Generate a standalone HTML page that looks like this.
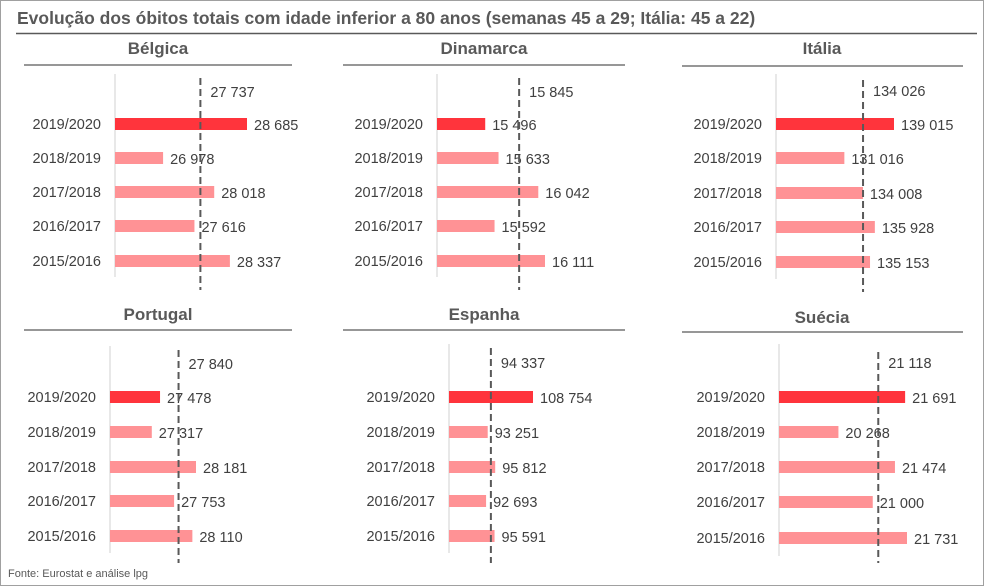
<!DOCTYPE html>
<html><head><meta charset="utf-8">
<style>
body{margin:0;background:#fff;}
svg{display:block;font-family:"Liberation Sans",Arial,sans-serif;}
</style></head>
<body>
<svg id="c" width="985" height="587" viewBox="0 0 985 587">
<rect x="0.5" y="0.5" width="983" height="585" fill="#fff" stroke="#a0a0a0"/>
<text x="17" y="24" font-size="17.5" font-weight="bold" fill="#595959">Evolução dos óbitos totais com idade inferior a 80 anos (semanas 45 a 29; Itália: 45 a 22)</text>
<line x1="16" y1="33.5" x2="977" y2="33.5" stroke="#595959" stroke-width="1.5"/>
<text x="8" y="577" font-size="11" fill="#595959">Fonte: Eurostat e análise lpg</text>
</svg>
<script>
const categories = ["2019/2020","2018/2019","2017/2018","2016/2017","2015/2016"];
const countries = ["Bélgica","Dinamarca","Itália","Portugal","Espanha","Suécia"];
const belgica = [28685,26978,28018,27616,28337];
const dinamarca = [15496,15633,16042,15592,16111];
const italia = [139015,131016,134008,135928,135153];
const portugal = [27478,27317,28181,27753,28110];
const espanha = [108754,93251,95812,92693,95591];
const suecia = [21691,20268,21474,21000,21731];
const means = [27737,15845,134026,27840,94337,21118];
const axisMin = [26000,15000,120000,26500,80000,19000];
const axisMax = [28685,16111,139015,28181,108754,21731];

const series=[belgica,dinamarca,italia,portugal,espanha,suecia];
// layout (pixels)
const layout=[
 {ax:115,pxEnd:247,ty:54,uy:65,ux1:24,ux2:292,rows:[124,158,192,226,261],my:91,a1:74,a2:277,d1:78,d2:290,tc:158},
 {ax:437,pxEnd:545,ty:54,uy:65,ux1:343,ux2:625,rows:[124,158,192,226,261],my:91,a1:74,a2:277,d1:78,d2:290,tc:484},
 {ax:776,pxEnd:894,ty:54,uy:66,ux1:682,ux2:963,rows:[124,158,193,227,262],my:90,a1:74,a2:279,d1:80,d2:292,tc:822},
 {ax:110,pxEnd:196,ty:320,uy:330,ux1:24,ux2:292,rows:[397,432,467,501,536],my:363,a1:346,a2:553,d1:350,d2:563,tc:158},
 {ax:449,pxEnd:533,ty:320,uy:330,ux1:343,ux2:625,rows:[397,432,467,501,536],my:362,a1:344,a2:553,d1:348,d2:563,tc:484},
 {ax:779,pxEnd:907,ty:323,uy:332,ux1:682,ux2:963,rows:[397,432,467,502,538],my:362,a1:344,a2:556,d1:352,d2:563,tc:822}
];
const NS="http://www.w3.org/2000/svg";
const svg=document.getElementById('c');
function mk(tag,attrs,parent){const e=document.createElementNS(NS,tag);for(const k in attrs)e.setAttribute(k,attrs[k]);(parent||svg).appendChild(e);return e;}
function fmt(v){return String(v).replace(/\B(?=(\d{3})+(?!\d))/g,' ');}

countries.forEach((name,i)=>{
  const L=layout[i];
  const vals=series[i];
  const x=v=>L.ax+(v-axisMin[i])/(axisMax[i]-axisMin[i])*(L.pxEnd-L.ax);
  const g=mk('g',{});
  
  
  const t=mk('text',{x:L.tc,y:L.ty,'text-anchor':'middle','font-size':'17','font-weight':'bold',fill:'#595959'},g);
  t.textContent=name;
  
  
  const u=mk('line',{x1:L.ux1,x2:L.ux2,y1:L.uy,y2:L.uy,stroke:'#595959','stroke-width':'1.3'},g);
  
  
  const a=mk('line',{x1:L.ax,x2:L.ax,y1:L.a1,y2:L.a2,stroke:'#d0d0d0','stroke-width':'1'},g);
  
  
  vals.forEach((v,j)=>{
    const y=L.rows[j];
    const r=mk('rect',{x:L.ax,y:y-6,width:Math.max(0,x(v)-L.ax),height:12,fill:j===0?'#ff343c':'#ff9295'},g);
    
    
    const c=mk('text',{x:L.ax-14,y:y+5,'text-anchor':'end','font-size':'14.5',fill:'#404040'},g);
    c.textContent=categories[j];
    
    
    const vl=mk('text',{x:x(v)+7,y:y+6,'font-size':'14.5',fill:'#404040'},g);
    vl.textContent=fmt(v);
    
    
  });
  const mx=x(means[i]);
  const d=mk('line',{x1:mx,x2:mx,y1:L.d1,y2:L.d2,stroke:'#595959','stroke-width':'2','stroke-dasharray':'7,4'},g);
  
  
  const ml=mk('text',{x:mx+10,y:L.my+6,'font-size':'14.5',fill:'#404040'},g);
  ml.textContent=fmt(means[i]);
  
  
});
</script>
</body></html>
